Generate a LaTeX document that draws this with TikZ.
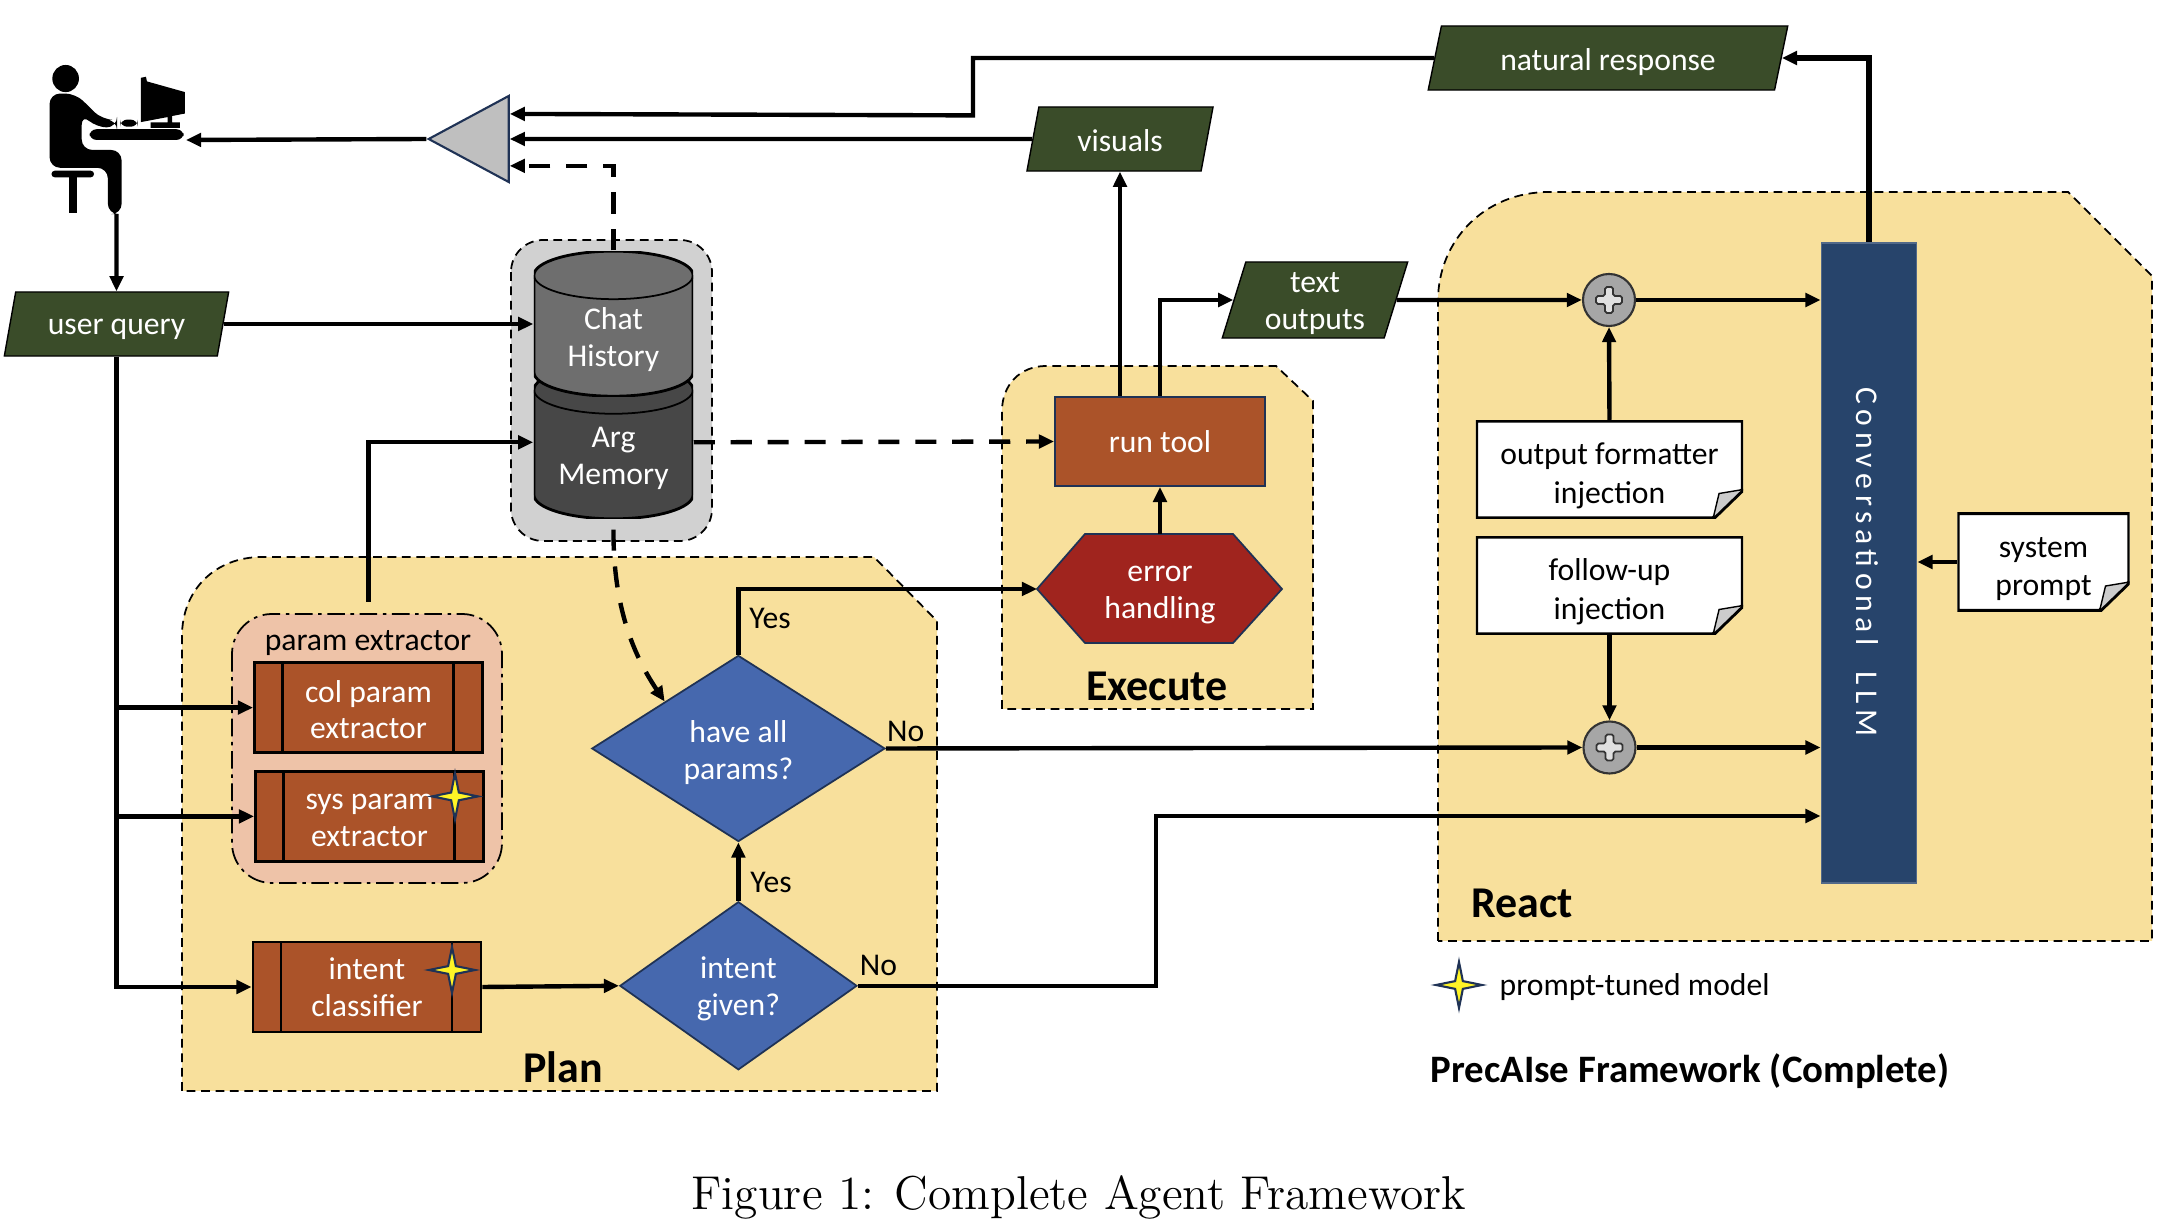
\documentclass[tikz,border=0pt]{standalone}
\usepackage{fontspec}
\setmainfont{Carlito}
\usetikzlibrary{positioning,calc,arrows.meta,shapes.geometric}
\definecolor{regionCol}{RGB}{248, 224, 156}
\definecolor{dataCol}{RGB}{58, 76, 41}
\definecolor{procCol}{RGB}{171, 83, 41}
\definecolor{deciCol}{RGB}{70, 104, 174}
\definecolor{errCol}{RGB}{160, 36, 30}
\definecolor{llmCol}{RGB}{39, 68, 107}
\definecolor{navyCol}{RGB}{31, 50, 85}
\definecolor{peachCol}{RGB}{238, 195, 168}
\newcommand{\nodeFont}{\fontsize{9}{10.4}\selectfont}
\newcommand{\nudge}[1]{\rule{0pt}{#1}}
\tikzset{myLine/.style={line width=1.25pt,color=black}}
\tikzset{myArrow/.style={myLine, -{Triangle[length=4.3pt,width=3.8pt]}}}
\tikzset{myDashArrow/.style={myArrow, dash pattern=on 6pt off 4.5pt}}
\tikzset{myRegion/.style={fill=regionCol, draw=black, line width=0.5pt, dash pattern=on 2.5pt off 1.6pt}}
\tikzset{myLabel/.style={font=\nodeFont, align=center, inner sep=0pt}}
\tikzset{myTitle/.style={font=\fontsize{12.5}{14}\selectfont\bfseries, inner sep=0pt}}
\tikzset{myData/.style={myLabel, shape=trapezium, trapezium left angle=76, trapezium right angle=104, trapezium stretches=true, fill=dataCol, draw=black, line width=0.4pt, text=white}}
\tikzset{myProc/.style={myLabel, rectangle, fill=procCol, draw=black, line width=0.8pt, text=white, minimum height=0.9cm, minimum width=2.28cm,
	path picture={\draw[black, line width=0.6pt] ([xshift=0.28cm]path picture bounding box.north west) -- ([xshift=0.28cm]path picture bounding box.south west);
		\draw[black, line width=0.6pt] ([xshift=-0.29cm]path picture bounding box.north east) -- ([xshift=-0.29cm]path picture bounding box.south east);}}}
\tikzset{myDeci/.style={myLabel, diamond, fill=deciCol, draw=navyCol, line width=0.5pt, text=white}}
\tikzset{myStar/.style={star, star points=4, star point ratio=4.2, inner sep=0pt, minimum size=0.46cm, fill=yellow!85!white, draw=navyCol, line width=0.6pt}}
\tikzset{myDb/.style={myLabel, rectangle, text=white, minimum width=1.59cm,
	path picture={\coordinate (nw) at (path picture bounding box.north west);
		\coordinate (se) at (path picture bounding box.south east);
		\draw[fill=#1, line width=0.8pt] ([yshift=-0.24cm]nw) arc[start angle=180, end angle=0, x radius=0.795cm, y radius=0.24cm] -- ([yshift=0.24cm]se) arc[start angle=0, end angle=-180, x radius=0.795cm, y radius=0.24cm] -- cycle;
		\draw[line width=0.5pt] ([yshift=-0.24cm]nw) arc[start angle=180, end angle=360, x radius=0.795cm, y radius=0.24cm];}}}
\tikzset{myNote/.style={myLabel, font=\fontsize{9}{11}\selectfont, rectangle, minimum height=0.98cm,
	path picture={\coordinate (nw) at (path picture bounding box.north west);
		\coordinate (ne) at (path picture bounding box.north east);
		\coordinate (sw) at (path picture bounding box.south west);
		\coordinate (se) at (path picture bounding box.south east);
		\draw[fill=white, line width=1.2pt] (nw) -- (ne) -- ([yshift=0.29cm]se) -- ([xshift=-0.3cm]se) -- (sw) -- cycle;
		\draw[fill=black!20, line width=0.4pt] ([xshift=-0.3cm]se) -- ([yshift=0.29cm]se) -- ([xshift=-0.24cm,yshift=0.25cm]se) -- cycle;}}}
\tikzset{myPlus/.style={circle, inner sep=0pt, minimum size=0.52cm, fill=black!35, draw=black!80, line width=0.6pt,
	path picture={\draw[shift={(path picture bounding box.center)}, fill=black!12, draw=black!80, line width=0.5pt, rounded corners=0.5pt] (-4,-13)--(4,-13)--(4,-4)--(13,-4)--(13,4)--(4,4)--(4,13)--(-4,13)--(-4,4)--(-13,4)--(-13,-4)--(-4,-4)--cycle;}}}

\begin{document}
\begin{tikzpicture}[x=0.01cm,y=-0.01cm]
	\useasboundingbox (0,0) rectangle (2168,1228);
	%regions
	\draw[myRegion](182,1091)--(182,636) .. controls (182,590) and (215,557) .. (262,557)--(874,557)--(937,621)--(937,1091)--cycle;
	\draw[myRegion](1002,709)--(1002,411) .. controls (1002,385) and (1020,366) .. (1046,366)--(1276,366)--(1313,401)--(1313,709)--cycle;
	\draw[myRegion](1438,941)--(1438,301) .. controls (1438,240) and (1485,192) .. (1549,192)--(2068,192)--(2152,276)--(2152,941)--cycle;
	\draw[fill=black!18, draw=black, line width=0.5pt, dash pattern=on 2.5pt off 1.6pt, rounded corners=0.32cm](511,240) rectangle (712,541);
	\draw[fill=peachCol, draw=black, line width=0.5pt, dash pattern=on 5pt off 1.6pt on 1pt off 1.6pt, rounded corners=0.4cm](232,614) rectangle (502,883);

	%user at the desk
	\begin{scope}[xscale=0.459,yscale=0.357]
		\fill[black](143,220) ellipse [x radius=29, y radius=38];
		\fill[black, rounded corners=3pt](108,262)--(165,262)--(222,335)--(255,335)--(255,357)--(210,357)--(178,320)--(178,420)--(265,420)--(265,600)--(235,600)--(235,470)--(108,470)--cycle;
		\fill[black, rounded corners=2pt](195,362) rectangle (400,392);
		\fill[black, rounded corners=2pt](262,335) rectangle (300,355);
		\fill[black](307,218)--(318,215)--(320,228)--(403,258)--(403,318)--(375,325)--(375,343)--(392,343)--(392,358)--(328,358)--(328,343)--(365,343)--(365,328)--(307,342)--cycle;
		\fill[black, rounded corners=1pt](112,478) rectangle (205,497);
		\fill[black](150,497) rectangle (168,597);
	\end{scope}
	\coordinate (userDesk) at (186,140);
	\coordinate (userFeet) at (116.5,214);

	%mixer
	\node[isosceles triangle, isosceles triangle apex angle=57, shape border rotate=180, isosceles triangle stretches=true, minimum width=0.86cm, minimum height=0.8cm, inner sep=0pt, fill=black!25, draw=navyCol, line width=0.6pt](mixer) at (483,139){};
	\coordinate (mixA) at ($(mixer.left corner)!0.78!(mixer.right corner)$);
	\coordinate (mixB) at ($(mixer.left corner)!0.5!(mixer.right corner)$);
	\coordinate (mixC) at ($(mixer.left corner)!0.2!(mixer.right corner)$);

	%data nodes
	\node[myData, minimum width=2.25cm, minimum height=0.64cm](userQuery) at (116.5,324){\nudge{7.4pt}user query};
	\node[myData, minimum width=3.6cm, minimum height=0.64cm](natResp) at (1608,58){\nudge{8.3pt}natural response};
	\node[myData, minimum width=1.86cm, minimum height=0.64cm](visuals) at (1120,139){\nudge{7.1pt}visuals};
	\node[myData, minimum width=1.86cm, minimum height=0.76cm](textOut) at (1315,300){\nudge{7.6pt}text\\outputs};

	%memory
	\node[myDb=black!72, minimum height=1.53cm](argDb) at (613.5,442.3){\nudge{14.9pt}Arg\\Memory};
	\node[myDb=black!57, minimum height=1.45cm](chatDb) at (613.5,323.7){\nudge{15.3pt}Chat\\History};

	%plan
	\node[myLabel](paramTitle) at (368,643){param extractor};
	\node[myProc](colParam) at (368.5,707.6){\nudge{7.5pt}col param\\extractor};
	\node[myProc](sysParam) at (369.5,816.4){\nudge{6.6pt}sys param\\extractor};
	\node[myProc](intentClf) at (367,987){intent\\classifier};
	\node[myStar](starSys) at (455,796.4){};
	\node[myStar](starClf) at (452,970){};
	\node[myDeci, minimum width=2.93cm, minimum height=1.86cm, aspect=1.575](haveAll) at (738.4,748.5){\nudge{8.6pt}have all\\params?};
	\node[myDeci, minimum width=2.37cm, minimum height=1.68cm, aspect=1.41](intentGiven) at (738.4,985.8){\nudge{7.8pt}intent\\given?};
	\node[myLabel](yesTop) at (770,618.4){Yes};
	\node[myLabel](noTop) at (905.7,731.6){No};
	\node[myLabel](yesLow) at (771,882){Yes};
	\node[myLabel](noLow) at (878.5,965.4){No};
	\node[myTitle](planTitle) at (563,1067){Plan};

	%execute
	\node[myLabel, rectangle, fill=procCol, draw=navyCol, line width=0.5pt, text=white, minimum width=2.1cm, minimum height=0.89cm](runTool) at (1160,441.5){run tool};
	\draw[fill=errCol, draw=navyCol, line width=0.5pt](1037,589)--(1085,534)--(1233,534)--(1282,589)--(1233,643)--(1085,643)--cycle;
	\node[myLabel, text=white](errHandle) at (1160,595){error\\handling};
	\coordinate (errLeft) at (1037,589);
	\coordinate (errTop) at (1160,534);
	\node[myTitle](execTitle) at (1157,686.6){Execute};

	%react
	\node[myLabel, rectangle, fill=llmCol, draw=llmCol!80!white, line width=0.5pt, minimum width=0.95cm, minimum height=6.4cm](llm) at (1869,563){};
	\node[myLabel, text=white, rotate=-90, font=\nodeFont\addfontfeature{LetterSpace=18}](llmText) at (1867,562){Conversational\ \ LLM};
	\node[myPlus](plusTop) at (1609,300){};
	\node[myPlus](plusLow) at (1609.5,747.5){};
	\node[myNote, minimum width=2.67cm](fmtNote) at (1609.5,469.5){\nudge{9.7pt}output formatter\\injection};
	\node[myNote, minimum width=2.67cm](followNote) at (1609.5,585.5){\nudge{9.7pt}follow-up\\injection};
	\node[myNote, minimum width=1.72cm](sysNote) at (2043.5,562){\nudge{9.7pt}system\\prompt};
	\node[myTitle](reactTitle) at (1522,903){React};

	%legend and captions
	\node[myStar](starKey) at (1459,985){};
	\node[myLabel, anchor=west](keyText) at (1499,987){prompt-tuned model};
	\node[anchor=west, inner sep=0pt, font=\fontsize{11.05}{13}\selectfont\bfseries](fwTitle) at (1430,1071){PrecAIse Framework (Complete)};
	\node[inner sep=0pt, font=\fontsize{13.5}{16}\fontfamily{lmr}\selectfont](figCap) at (1079,1197){Figure 1: Complete Agent Framework};

	%connectors
	\draw[myArrow](mixer.apex)--(userDesk);
	\draw[myArrow](userFeet)--(userQuery.north);
	\draw[myArrow](userQuery.east)--(chatDb.west |- userQuery.east);
	\draw[myArrow](userQuery.south)|-(intentClf.west);
	\draw[myArrow](userQuery.south |- colParam.west)--(colParam.west);
	\draw[myArrow](userQuery.south |- sysParam.west)--(sysParam.west);
	\draw[myArrow](colParam.north |- paramTitle.north)++(0,-28) |- (argDb.west);
	\draw[myDashArrow](chatDb.north)|-(mixC);
	\draw[myDashArrow](argDb.east)--(runTool.west);
	\draw[myDashArrow]([yshift=-0.1cm]argDb.south) .. controls (613,600) and (630,650) .. (haveAll.north west);
	\draw[myArrow](natResp.west)-|(973,115.4)--(mixA);
	\draw[myArrow](visuals.west)--(mixB);
	\draw[myArrow](intentClf.east)--(intentGiven.west);
	\draw[myArrow](intentGiven.north)--(haveAll.south);
	\draw[myArrow](haveAll.north)|-(errLeft);
	\draw[myArrow](haveAll.east)--(plusLow.west);
	\draw[myArrow](intentGiven.east)-|(1156,816)--(llm.west |- 0,816);
	\draw[myArrow](errTop)--(runTool.south);
	\draw[myArrow](runTool.north -| visuals.south)--(visuals.south);
	\draw[myArrow](runTool.north)|-(textOut.west);
	\draw[myArrow](textOut.east)--(plusTop.west);
	\draw[myArrow](plusTop.east)--(llm.west |- plusTop.east);
	\draw[myArrow](plusLow.east)--(llm.west |- plusLow.east);
	\draw[myArrow](fmtNote.north)--(plusTop.south);
	\draw[myArrow](followNote.south)--(plusLow.north);
	\draw[myArrow](sysNote.west)--(llm.east |- sysNote.west);
	\draw[myArrow, line width=1.6pt](llm.north)|-(natResp.east);
\end{tikzpicture}
\end{document}
